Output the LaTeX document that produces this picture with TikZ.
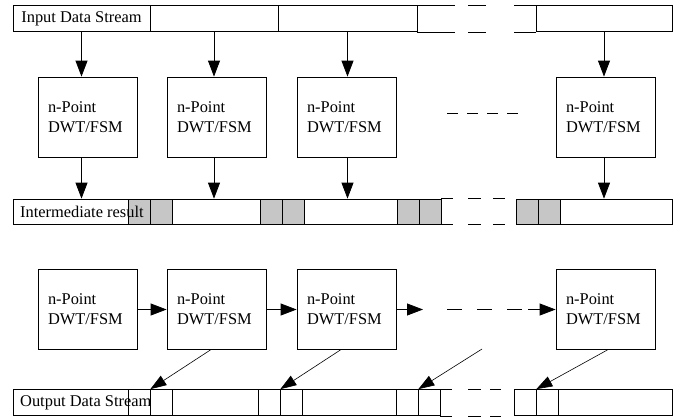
\documentclass[tikz,border=0pt]{standalone}
\usepackage{fontspec}
\setmainfont{Liberation Serif}
\usepackage{tikz}
\usetikzlibrary{arrows.meta}
\definecolor{dwtLine}{HTML}{000000}
\definecolor{dwtShade}{HTML}{C6C6C6}
\tikzset{
  dwtbox/.style={draw=dwtLine,line width=0.8pt,text width=79pt,inner xsep=10pt,inner ysep=0pt,
                 minimum height=80pt,align=left,font=\fontsize{16.4}{20}\selectfont},
  cell/.style={draw=dwtLine,line width=0.7pt,inner sep=0pt,minimum height=26pt},
  shcell/.style={cell,fill=dwtShade},
  lbl/.style={font=\fontsize{16.4}{20}\selectfont,inner sep=0pt,anchor=west},
  flow/.style={draw=dwtLine,line width=0.8pt,-{Triangle[length=16pt,width=12pt]}},
  slant/.style={draw=dwtLine,line width=0.6pt,-{Triangle[length=16pt,width=11pt]}},
  gap/.style={draw=dwtLine,line width=0.7pt},
}
\begin{document}
\begin{tikzpicture}[x=1pt,y=-1pt]
  \useasboundingbox (0,0) rectangle (681,418);
  % input stream
  \node[cell,minimum width=137pt,font=\fontsize{16.4}{20}\selectfont] (in1) at (81.5,18.5) {Input Data Stream};
  \foreach \a/\b [count=\i from 2] in {150/278,278/417,536/672}
    \node[cell,minimum width={(\b-\a)*1pt}] (in\i) at ({(\a+\b)/2},18.5) {};
  \foreach \p/\q in {0/38,51/69,97/119} {
    \draw[gap] ([xshift=\p pt]in3.north east) -- ([xshift=\q pt]in3.north east);
    \draw[gap] ([xshift=\p pt]in3.south east) -- ([xshift=\q pt]in3.south east);
  }
  % processing units
  \foreach \x [count=\i] in {87.5,216.5,346.5,605.5} {
    \node[dwtbox] (b\i) at (\x,117) {n-Point\\DWT/FSM};
    \node[dwtbox] (c\i) at (\x,309.5) {n-Point\\DWT/FSM};
  }
  \coordinate (d1) at (447,113);
  \coordinate (d2) at (518,113);
  \draw[gap,dash pattern=on 11pt off 9pt] (d1) -- (d2);
  % intermediate result
  \foreach \a/\b/\s [count=\i] in {13/128/cell,128/150/shcell,150/172/shcell,172/260/cell,
      260/282/shcell,282/304/shcell,304/397/cell,397/419/shcell,419/441/shcell,
      516/538/shcell,538/560/shcell,560/672/cell}
    \node[\s,minimum width={(\b-\a)*1pt},minimum height=25pt] (mid\i) at ({(\a+\b)/2},211.5) {};
  \node[lbl] (midtxt) at (20,211.5) {Intermediate result};
  \foreach \p/\q in {0/12,27/40,52/64} {
    \draw[gap] ([xshift=\p pt]mid9.north east) -- ([xshift=\q pt]mid9.north east);
    \draw[gap] ([xshift=\p pt]mid9.south east) -- ([xshift=\q pt]mid9.south east);
  }
  \foreach \i in {1,...,4} {
    \draw[flow] (in\i.south) -- (in\i.south |- b\i.north);
    \draw[flow] (in\i.south |- b\i.south) -- (in\i.south |- mid1.north);
  }
  % output stream
  \foreach \a/\b [count=\i] in {13/128,128/150,150/172,172/258,258/280,280/302,
      302/396,396/418,418/440,514/536,536/558,558/672}
    \node[cell,minimum width={(\b-\a)*1pt}] (out\i) at ({(\a+\b)/2},402.5) {};
  \node[lbl] (outtxt) at (20,402.5) {Output Data Stream};
  \foreach \p/\q in {0/12,28/41,50/61} {
    \draw[gap] ([xshift=\p pt]out9.north east) -- ([xshift=\q pt]out9.north east);
    \draw[gap] ([xshift=\p pt]out9.south east) -- ([xshift=\q pt]out9.south east);
  }
  % pipeline links
  \coordinate (g1) at (423,309.5);
  \coordinate (g2) at (447,309.5);
  \coordinate (g3) at (528,309.5);
  \coordinate (g4) at (482,349);
  \draw[flow] (c1.east) -- (c2.west);
  \draw[flow] (c2.east) -- (c3.west);
  \draw[flow] (c3.east) -- (g1);
  \draw[gap,dash pattern=on 15pt off 15pt] (g2) -- (g3);
  \draw[flow] (g3) -- (c4.west);
  \draw[slant] ([xshift=-6pt]c2.south) -- (out2.north east);
  \draw[slant] ([xshift=-6pt]c3.south) -- (out5.north east);
  \draw[slant] (g4) -- (out8.north east);
  \draw[slant] ([xshift=2pt]c4.south) -- (out10.north east);
\end{tikzpicture}
\end{document}
